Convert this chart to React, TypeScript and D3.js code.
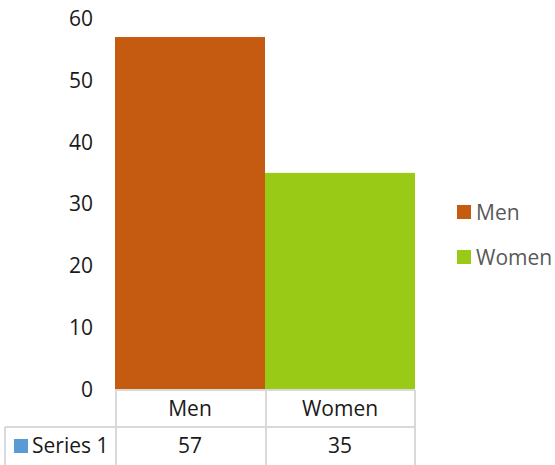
import React from "react";
import * as d3 from "d3";

const categories = ["Men", "Women"];
const seriesName = "Series 1";
const values = [57, 35];
const barColors = ["#C55A11", "#98CA16"];
const seriesColor = "#5B9BD5";
const yTicks = [0, 10, 20, 30, 40, 50, 60];

const W = 555;
const H = 465;
const FONT = "'Open Sans', 'Noto Sans', sans-serif";
const FS = 21;

export default function App() {
  const x = d3.scaleBand<string>().domain(categories).range([115, 415]).padding(0);
  const y = d3.scaleLinear().domain([0, 60]).range([389, 18.5]);
  const bw = x.bandwidth();
  const tableTop = 390;
  const rowH = 37;
  const gridColor = "#D9D9D9";
  const lastEdge = (x(categories[categories.length - 1]) ?? 0) + bw;
  const firstEdge = x(categories[0]) ?? 0;

  return (
    <svg
      width={W}
      height={H}
      style={{ position: "absolute", left: 0, top: 0, background: "#fff" }}
      fontFamily={FONT}
    >
      <rect x={0} y={0} width={W} height={H} fill="#fff" />
      {categories.map((c, i) => (
        <rect
          key={c}
          x={x(c)}
          y={y(values[i])}
          width={bw}
          height={y(0) - y(values[i])}
          fill={barColors[i]}
        />
      ))}
      {yTicks.map((t) => (
        <text
          key={t}
          x={93}
          y={y(t)}
          dy="0.36em"
          textAnchor="end"
          fontSize={FS}
          fill="#1a1a1a"
        >
          {t}
        </text>
      ))}
      <g stroke={gridColor} strokeWidth={2} fill="none">
        <line x1={firstEdge} x2={lastEdge} y1={tableTop} y2={tableTop} />
        <line x1={5} x2={lastEdge} y1={tableTop + rowH} y2={tableTop + rowH} />
        <line x1={5} x2={lastEdge} y1={tableTop + 2 * rowH + 2} y2={tableTop + 2 * rowH + 2} />
        <line x1={5} x2={5} y1={tableTop + rowH} y2={tableTop + 2 * rowH + 2} />
        {categories.map((c) => (
          <line key={c} x1={(x(c) ?? 0) + 1} x2={(x(c) ?? 0) + 1} y1={tableTop} y2={tableTop + 2 * rowH + 2} />
        ))}
        <line x1={lastEdge} x2={lastEdge} y1={tableTop} y2={tableTop + 2 * rowH + 2} />
      </g>
      {categories.map((c, i) => (
        <g key={c}>
          <text
            x={(x(c) ?? 0) + bw / 2}
            y={tableTop + rowH / 2}
            dy="0.36em"
            textAnchor="middle"
            fontSize={FS}
            fill="#1a1a1a"
          >
            {c}
          </text>
          <text
            x={(x(c) ?? 0) + bw / 2}
            y={tableTop + rowH * 1.5}
            dy="0.36em"
            textAnchor="middle"
            fontSize={FS}
            fill="#1a1a1a"
          >
            {values[i]}
          </text>
        </g>
      ))}
      <rect x={14} y={439} width={14} height={14} fill={seriesColor} />
      <text x={32} y={tableTop + rowH * 1.5} dy="0.36em" fontSize={FS} fill="#1a1a1a">
        {seriesName}
      </text>
      {categories.map((c, i) => (
        <g key={c} transform={`translate(457, ${205 + i * 45})`}>
          <rect x={0} y={0} width={14} height={14} fill={barColors[i]} />
          <text x={19} y={7} dy="0.36em" fontSize={FS} fill="#595959">
            {c}
          </text>
        </g>
      ))}
    </svg>
  );
}
